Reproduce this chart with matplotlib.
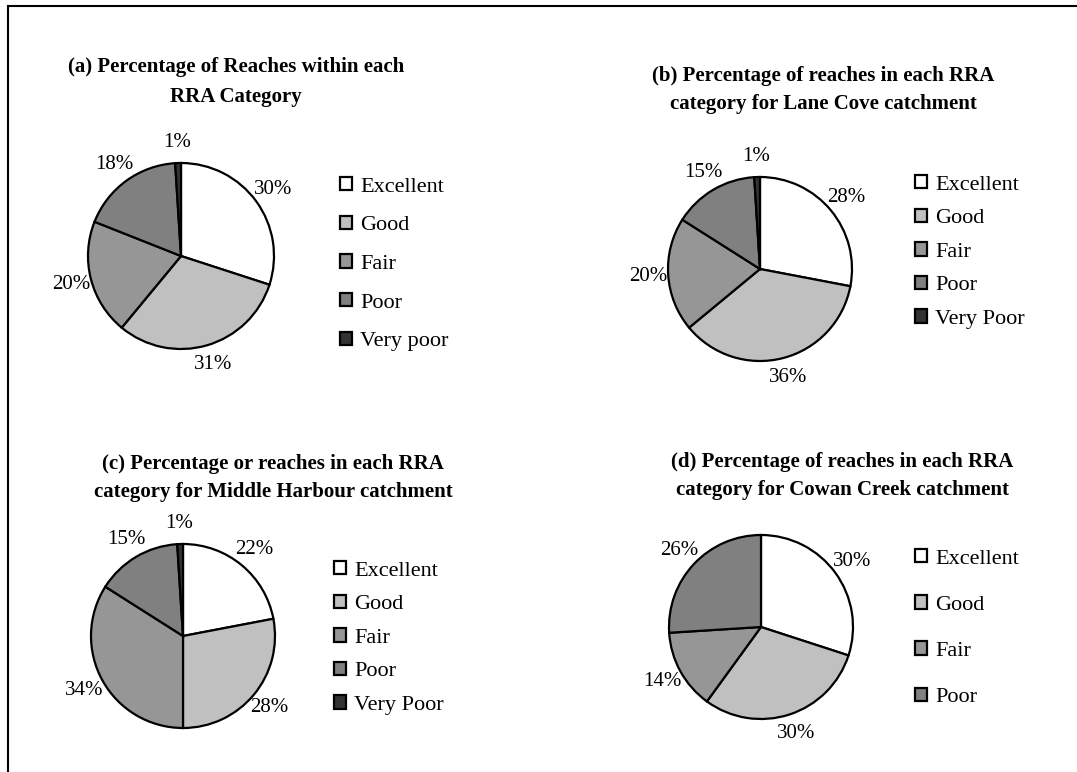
import matplotlib.pyplot as plt
from matplotlib.lines import Line2D

plt.rcParams["font.family"] = ["Liberation Serif", "DejaVu Serif"]

W, H = 1077, 772

categories = ["Excellent", "Good", "Fair", "Poor", "Very poor"]
colors = ["#ffffff", "#c0c0c0", "#969696", "#808080", "#333333"]

vals_a = [30, 31, 20, 18, 1]
vals_b = [28, 36, 20, 15, 1]
vals_c = [22, 28, 34, 15, 1]
vals_d = [30, 30, 14, 26]

labels_a = ["Excellent", "Good", "Fair", "Poor", "Very poor"]
labels_b = ["Excellent", "Good", "Fair", "Poor", "Very Poor"]
labels_c = ["Excellent", "Good", "Fair", "Poor", "Very Poor"]
labels_d = ["Excellent", "Good", "Fair", "Poor"]

titles = [
    "(a) Percentage of Reaches within each\nRRA Category",
    "(b) Percentage of reaches in each RRA\ncategory for Lane Cove catchment",
    "(c) Percentage or reaches in each RRA\ncategory for Middle Harbour catchment",
    "(d) Percentage of reaches in each RRA\ncategory for Cowan Creek catchment",
]

# layout in pixels: pie centre, radius, title centre, title line spacing,
# legend top-left, legend row spacing
panels = [
    dict(vals=vals_a, labels=labels_a, c=(181, 256), r=93, t=(236, 82), ls=1.68, leg=(340, 177), sp=0.86),
    dict(vals=vals_b, labels=labels_b, c=(760, 269), r=92, t=(823, 90), ls=1.5, leg=(915, 175), sp=0.63),
    dict(vals=vals_c, labels=labels_c, c=(183, 636), r=92, t=(273, 478), ls=1.56, leg=(334, 561), sp=0.63),
    dict(vals=vals_d, labels=labels_d, c=(761, 627), r=92, t=(842, 476), ls=1.56, leg=(915, 549), sp=1.2),
]

fig = plt.figure(figsize=(W / 100, H / 100), dpi=100)

# outer frame (only left and top visible)
fig.add_artist(Line2D([8 / W, 8 / W], [0, 1 - 6 / H], transform=fig.transFigure, color="black", lw=1.5))
fig.add_artist(Line2D([8 / W, 1], [1 - 6 / H, 1 - 6 / H], transform=fig.transFigure, color="black", lw=1.5))

lim = 1.4
for p, title in zip(panels, titles):
    cx, cy = p["c"]
    r = p["r"]
    ax = fig.add_axes([(cx - lim * r) / W, 1 - (cy + lim * r) / H, 2 * lim * r / W, 2 * lim * r / H])
    n = len(p["vals"])
    wedges, _, autotexts = ax.pie(
        p["vals"], colors=colors[:n], startangle=90, counterclock=False,
        autopct="%1.0f%%", pctdistance=1.22,
        wedgeprops=dict(edgecolor="black", linewidth=1.6),
        textprops=dict(fontsize=15),
    )
    ax.set_xlim(-lim, lim)
    ax.set_ylim(-lim, lim)
    ax.set_aspect("equal")
    ax.axis("off")

    fig.text(p["t"][0] / W, 1 - p["t"][1] / H, title, ha="center", va="center",
             fontsize=15, fontweight="bold", linespacing=p["ls"])

    fig.legend(wedges, p["labels"], loc="upper left",
               bbox_to_anchor=(p["leg"][0] / W, 1 - p["leg"][1] / H),
               frameon=False, fontsize=16, handlelength=0.55, handleheight=0.55,
               handletextpad=0.35, labelspacing=p["sp"], borderaxespad=0, borderpad=0)

fig.savefig("out.png", dpi=100)
